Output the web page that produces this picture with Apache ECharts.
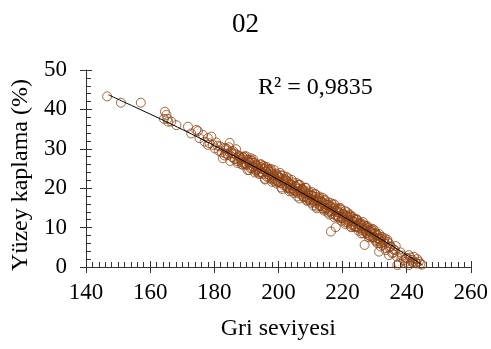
<!DOCTYPE html>
<html>
<head>
<meta charset="utf-8">
<script src="https://cdn.jsdelivr.net/npm/echarts@6/dist/echarts.min.js"></script>
<style>html,body{margin:0;padding:0;background:#fff}#c{width:491px;height:349px}</style>
</head>
<body>
<div id="c"></div>
<script>
var titleText = '02';
var xName = 'Gri seviyesi';
var yName = 'Yüzey kaplama (%)';
var r2Text = 'R² = 0,9835';

var grayLevel = [
146.6,150.9,157.1,164.3,164.6,165.1,165.4,165.6,166.6,168.2,171.8,172.8,174.4,174.9,175.4,176.5,177.0,178.0,178.0,178.5,179.1,179.6,
180.2,180.6,181.0,181.4,181.9,182.3,182.7,183.1,183.5,184.0,184.3,184.8,185.2,185.6,186.0,186.4,186.8,187.2,187.7,188.1,188.5,189.0,189.3,189.8,
190.2,190.6,191.0,191.3,191.8,192.2,192.6,193.0,193.3,193.8,194.2,194.5,195.0,195.3,195.7,196.1,196.4,196.8,197.2,197.6,198.0,198.3,198.7,199.1,199.5,199.8,
200.2,200.5,200.9,201.3,201.6,202.0,202.4,202.7,203.1,203.5,203.8,204.2,204.6,205.0,205.3,205.7,206.1,206.4,206.8,207.2,207.5,207.9,208.3,208.6,209.0,209.4,209.7,
210.1,210.5,210.8,211.2,211.6,211.9,212.3,212.7,213.0,213.4,213.8,214.1,214.5,214.9,215.2,215.6,216.0,216.3,216.4,216.7,217.1,217.5,217.9,217.8,218.2,218.6,218.9,219.3,219.7,
220.0,220.4,220.8,221.1,221.5,221.9,222.2,222.6,222.6,223.0,223.3,223.7,224.1,224.4,224.8,225.2,225.5,225.9,226.3,226.6,226.9,227.0,227.4,227.8,228.1,228.5,228.8,229.2,229.6,229.9,
230.3,230.7,231.0,231.4,231.8,231.9,232.1,232.4,232.9,233.2,233.5,234.0,234.5,234.5,235.0,235.5,236.0,236.6,237.0,237.1,237.6,238.1,238.6,239.2,239.7,
240.2,240.7,240.7,241.2,241.7,241.7,242.3,242.8,243.3,243.8,244.3,244.8,
183.2,183.65,184.1,184.55,185.0,185.45,185.9,186.35,186.8,187.25,187.7,188.15,188.6,189.05,189.5,189.95,
190.4,190.85,191.3,191.75,192.2,192.65,193.1,193.55,194.0,194.45,194.9,195.35,195.8,196.25,196.7,197.15,197.6,198.05,198.5,198.95,199.4,199.85,
200.3,200.75,201.2,201.65,202.1,202.55,203.0,203.45,203.9,204.35,204.8,205.25,205.7,206.15,206.6,207.05,207.5,207.95,208.4,208.85,209.3,209.75,
210.2,210.65,211.1,211.55,212.0,212.45,212.9,213.35,213.8,214.25,214.7,215.15,215.6,216.05,216.5,216.95,217.4,217.85,218.3,218.75,219.2,219.65,
220.1,220.55,221.0,221.45,221.9,222.35,222.8,223.25,223.7,224.15,224.6,225.05,225.5,225.95,226.4,226.85,227.3,227.75,228.2,228.65,229.1,229.55,
230.0,230.45,230.9,231.35,231.8,232.25,232.7,233.15,233.6,234.05,234.5,235.0,235.8,236.3,238.4,242.0,243.0,239.8,
188.4,188.9,189.4,189.9,190.4,190.9,191.4,191.9,192.4,192.9,193.4,193.9,194.4,194.9,195.4,195.9,196.4,196.9,197.4,197.9,198.4,198.9,199.4,199.9,
200.4,200.9,201.4,201.9,202.4,202.9,203.4,203.9,204.4,204.9,205.4,205.9,206.4,206.9,207.4,207.9,208.4,208.9,209.4,209.9,
210.4,210.9,211.4,211.9,212.4,212.9,213.4,213.9,214.4,214.9,215.4,215.9,216.4,216.9,217.4,217.9,218.4,218.9,219.4,219.9,
220.4,220.9,221.4,221.9,222.4,222.9,223.4,223.9,224.4,224.9,225.4,225.9,226.4,226.9,227.4,227.9,228.4,228.9,229.4,229.9,
230.4,230.9,231.4,231.9
];
var coverage = [
43.3,41.7,41.7,37.6,39.4,38.6,37.6,36.9,36.9,36.0,35.6,33.9,34.8,34.5,32.7,33.5,31.8,32.7,31.0,31.4,33.1,31.0,
30.1,31.6,30.8,29.5,30.6,29.1,27.6,30.2,28.8,29.9,28.4,31.5,29.3,27.9,28.9,27.5,28.6,26.9,28.3,27.8,26.6,27.9,26.2,27.3,
25.9,27.2,26.5,25.1,26.9,25.4,26.4,24.6,25.9,25.0,24.1,26.1,24.8,23.6,25.3,24.3,22.9,24.9,23.3,24.5,22.5,23.7,24.6,22.1,23.3,21.6,
22.8,23.9,21.3,22.4,20.8,21.9,22.9,20.4,21.5,19.9,21.1,22.1,19.6,20.6,19.2,21.3,18.7,19.9,20.8,18.4,19.5,17.8,19.1,20.1,17.6,18.7,16.9,
18.2,19.0,17.1,16.3,17.8,15.3,16.9,17.9,15.7,16.6,14.9,16.2,17.1,14.6,15.7,16.4,14.1,15.3,9.0,13.5,14.8,15.9,10.1,13.3,14.4,12.8,13.9,15.0,12.4,
13.6,12.0,14.2,12.9,11.4,12.6,13.4,10.2,11.9,10.9,12.7,11.5,10.4,11.9,10.9,9.8,11.2,10.5,9.3,10.8,5.6,9.7,8.6,10.0,9.2,7.9,9.6,8.8,7.4,8.4,
6.9,8.1,7.3,3.9,6.5,5.2,7.6,5.6,6.8,5.9,4.3,6.9,3.0,6.0,5.1,3.5,4.4,5.3,2.6,0.5,0.9,3.7,2.9,1.8,1.3,
2.2,3.0,0.5,2.4,1.3,1.8,2.6,1.1,2.0,1.4,0.8,0.6,
28.3,30.1,28.7,30.4,26.9,28.8,29.4,27.4,29.9,26.4,28.1,27.2,26.0,27.8,26.4,28.1,
24.6,26.5,27.1,25.1,27.3,24.0,25.7,24.8,23.6,25.4,24.0,25.7,22.2,24.1,24.7,22.7,24.9,21.6,23.3,22.4,21.2,23.0,
21.6,23.3,19.8,21.7,22.3,20.3,22.5,19.2,20.9,20.0,18.8,20.6,19.2,20.9,17.4,19.3,19.9,17.9,20.1,16.8,18.5,17.5,
16.3,18.1,16.7,18.4,14.9,16.8,17.4,15.4,17.6,14.3,15.9,15.0,13.8,15.6,14.2,15.9,12.7,14.3,14.8,12.8,14.8,11.7,
13.4,12.5,11.3,13.0,11.6,13.1,10.1,11.7,12.2,10.2,12.0,9.2,10.8,9.9,8.6,10.4,9.0,10.4,7.5,9.0,9.4,7.6,
9.3,6.5,8.1,7.2,6.0,7.6,6.3,7.3,4.8,6.4,5.0,5.3,3.7,4.3,2.3,1.2,0.9,2.3,
27.5,26.0,28.1,26.1,27.1,24.6,27.6,25.6,26.4,24.4,25.3,23.9,26.0,23.9,24.9,22.4,25.4,23.5,24.2,22.2,23.1,21.7,23.7,21.7,
22.7,20.2,23.2,21.2,22.0,20.0,20.9,19.4,21.5,19.5,20.4,17.9,20.9,19.0,19.7,17.7,18.6,17.1,19.2,17.2,
18.1,15.6,18.6,16.7,17.4,15.4,16.3,14.8,16.9,14.9,15.8,13.3,16.2,14.3,15.1,13.0,13.9,12.5,14.5,12.5,
13.4,10.9,13.9,11.9,12.7,10.6,11.5,10.1,12.1,10.1,11.0,8.5,11.4,9.5,10.3,8.2,9.1,7.6,9.7,7.6,
8.6,6.0,8.4,7.0
];

var trendX = [147, 155, 165, 175, 185, 195, 205, 215, 225, 235, 245];
var trendY = [43.7, 40.7, 36.9, 32.9, 28.7, 24.4, 19.9, 15.3, 10.5, 5.6, 0.5];

var xTicks = {min: 140, max: 260, interval: 20};
var yTicks = {min: 0, max: 50, interval: 10};

var points = grayLevel.map(function (x, i) { return [x, coverage[i]]; });
var trend = trendX.map(function (x, i) { return [x, trendY[i]]; });

var font = '"Liberation Serif", "Times New Roman", serif';
var axisCol = '#333';
var chart = echarts.init(document.getElementById('c'), null, {renderer: 'canvas'});

function mkX(primary) {
  return {
    type: 'value', position: 'bottom', min: xTicks.min, max: xTicks.max, interval: xTicks.interval,
    name: primary ? xName : '', nameLocation: 'middle', nameGap: 50,
    nameTextStyle: {fontFamily: font, fontSize: 24, color: '#000'},
    axisLine: {show: primary, onZero: false, lineStyle: {color: axisCol, width: 1}},
    axisTick: {show: true, inside: primary, length: 6, lineStyle: {color: axisCol}},
    minorTick: {show: primary, splitNumber: 10, length: 5, lineStyle: {color: axisCol}},
    axisLabel: {show: primary, fontFamily: font, fontSize: 23, color: '#000', margin: 14},
    splitLine: {show: false}, minorSplitLine: {show: false}
  };
}
function mkY(primary) {
  return {
    type: 'value', position: 'left', min: yTicks.min, max: yTicks.max, interval: yTicks.interval,
    axisLine: {show: primary, onZero: false, lineStyle: {color: axisCol, width: 1}},
    axisTick: {show: true, inside: primary, length: 6, lineStyle: {color: axisCol}},
    minorTick: {show: primary, splitNumber: 5, length: 5, lineStyle: {color: axisCol}},
    axisLabel: {show: primary, fontFamily: font, fontSize: 23, color: '#000', margin: 19},
    splitLine: {show: false}, minorSplitLine: {show: false}
  };
}

chart.setOption({
  animation: false,
  backgroundColor: '#fff',
  title: {text: titleText, left: 'center', top: 6,
    textStyle: {fontFamily: font, fontSize: 27, fontWeight: 'normal', color: '#000'}},
  grid: {left: 86, right: 19, top: 70, bottom: 82, containLabel: false},
  xAxis: [mkX(true), mkX(false)],
  yAxis: [mkY(true), mkY(false)],
  graphic: [
    {type: 'text', left: 258, top: 76, style: {text: r2Text, font: '24px ' + font, fill: '#000'}},
    {type: 'text', x: 21, y: 175, rotation: Math.PI / 2,
      style: {text: yName, font: '24px ' + font, fill: '#000', textAlign: 'center', textVerticalAlign: 'middle'}}
  ],
  series: [
    {type: 'scatter', xAxisIndex: 0, yAxisIndex: 0, data: points, symbol: 'circle', symbolSize: 9,
      itemStyle: {color: 'rgba(0,0,0,0)', borderColor: '#8E4414', borderWidth: 1}, z: 2},
    {type: 'line', xAxisIndex: 0, yAxisIndex: 0, data: trend, showSymbol: false, smooth: 0.2,
      lineStyle: {color: '#000', width: 1}, z: 3}
  ]
});
</script>
</body>
</html>
